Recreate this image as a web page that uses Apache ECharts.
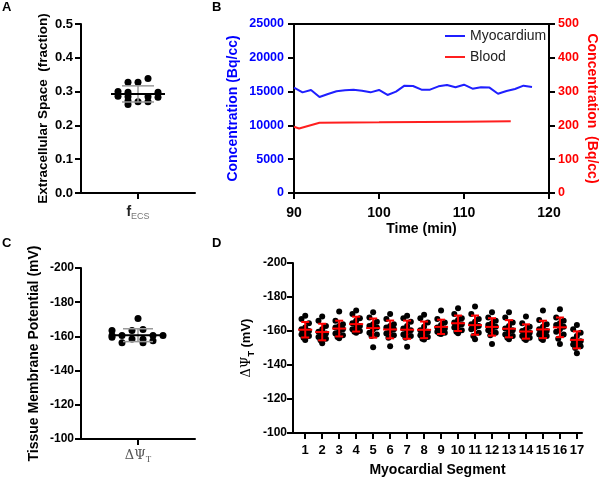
<!DOCTYPE html>
<html><head><meta charset="utf-8">
<script src="https://cdn.jsdelivr.net/npm/echarts@6/dist/echarts.min.js"></script>
<style>html,body{margin:0;padding:0;background:#fff}#c{width:600px;height:478px}</style>
</head><body><div id="c"></div>
<script>
// ---------- Panel A: extracellular space fraction ----------
const ecsValues = [0.328, 0.328, 0.339, 0.300, 0.298, 0.298, 0.286, 0.285, 0.285, 0.283, 0.272, 0.270, 0.270, 0.262];
const ecsJitter = [-10, 0, 10, -20, -10, 20, -20, -10, 10, 20, -10, 0, 10, -10];
const ticksA = [0, 0.1, 0.2, 0.3, 0.4, 0.5];

// ---------- Panel B: time activity curves ----------
const timeMin = [90,91,92,93,94,95,96,97,98,99,100,101,102,103,104,105,106,107,108,109,110,111,112,113,114,115,116,117,118];
const myocardium = [15580,14890,15240,14200,14650,15040,15190,15290,15140,14890,15240,14500,14990,15880,15830,15290,15290,15780,15980,15640,16020,15430,15640,15590,14690,15090,15380,15880,15680];
const bloodTime = [90, 90.6, 93, 100, 105, 110, 115.5];
const blood = [196, 191, 208, 209, 210, 211, 212];
const ticksTime = [90, 100, 110, 120];
const ticksLeftB = [0, 5000, 10000, 15000, 20000, 25000];
const ticksRightB = [0, 100, 200, 300, 400, 500];

// ---------- Panel C: tissue membrane potential ----------
const potentialValues = [-170.5, -163.5, -163.5, -164, -160.5, -160.5, -160.5, -160.5, -159.5, -158.5, -158.3, -156.3, -156.3, -157.5];
const potentialJitter = [0, -26, -6, 5, -26, -16, 15, 25, -26, -6, 5, -16, 5, 15];
const ticksC = [-200, -180, -160, -140, -120, -100];

// ---------- Panel D: per segment ----------
const segments = [1,2,3,4,5,6,7,8,9,10,11,12,13,14,15,16,17];
const segmentValues = [
  [-169, -167, -164.5, -162, -161, -160, -159, -158, -157, -156, -154.7],
  [-168.5, -166, -163, -161, -159.5, -158.5, -157.5, -156.5, -155.5, -154.5, -152.8],
  [-171.5, -166, -164, -163, -162, -161, -160, -158.5, -157.5, -156.5, -155.7],
  [-172, -170, -167.5, -166, -164.5, -163, -162, -161, -160, -159.5, -159],
  [-171, -168, -165.5, -164, -163, -162, -161, -159, -158, -157, -150.4],
  [-170, -167, -164, -163, -162, -161, -160, -158.5, -157.5, -156, -151],
  [-169, -167.5, -165.5, -163, -161.5, -160.5, -159.5, -158, -157, -156, -150.8],
  [-169.5, -167.5, -165, -162.5, -160.5, -159.5, -158.5, -157.5, -156.5, -155.5, -155],
  [-172, -167, -165, -163.5, -162, -161.5, -160.5, -159.5, -159, -158.5, -158.3],
  [-173.4, -170, -167.5, -166.5, -165, -164, -163, -162, -160.5, -159.5, -158.7],
  [-174.4, -170, -167, -165.5, -164, -163, -162, -161, -159, -157, -155.1],
  [-171, -168, -166, -164.5, -163.5, -162.5, -161.5, -160.5, -159, -157.5, -152.4],
  [-171, -168, -165, -163, -161.5, -160.5, -159.5, -158, -157, -156, -155.1],
  [-168.5, -164.5, -162.5, -161, -160, -159, -158, -157, -156, -155.5, -154.7],
  [-172, -166.5, -164, -162.5, -161, -160, -159, -158, -157, -155.5, -154.7],
  [-172.8, -168, -166, -164.5, -163.5, -162.5, -161, -159.5, -158, -155.5, -152.4],
  [-163.6, -161, -159, -157, -155, -154, -153, -152, -151, -150, -146.9]
];
const segmentJitter = [0, -0.22, 0.22, 0, -0.22, 0.22, 0, -0.22, 0.22, -0.1, 0];

// ---------- helpers ----------
const FONT = "'Liberation Sans', Arial, sans-serif";
function stats(a) {
  const m = a.reduce((s, v) => s + v, 0) / a.length;
  const sd = Math.sqrt(a.reduce((s, v) => s + (v - m) * (v - m), 0) / (a.length - 1));
  return [m, sd];
}
function errRender(meanHalfPx, capHalfPx, meanColor, barColor, meanW, barW) {
  return function (params, api) {
    const x = api.value(0), m = api.value(1), sd = api.value(2);
    const c = api.coord([x, m]);
    const a = api.coord([x, m - sd]);
    const b = api.coord([x, m + sd]);
    const bar = { stroke: barColor, lineWidth: barW };
    return {
      type: 'group',
      children: [
        { type: 'line', shape: { x1: a[0], y1: a[1], x2: b[0], y2: b[1] }, style: bar },
        { type: 'line', shape: { x1: a[0] - capHalfPx, y1: a[1], x2: a[0] + capHalfPx, y2: a[1] }, style: bar },
        { type: 'line', shape: { x1: b[0] - capHalfPx, y1: b[1], x2: b[0] + capHalfPx, y2: b[1] }, style: bar },
        { type: 'line', shape: { x1: c[0] - meanHalfPx, y1: c[1], x2: c[0] + meanHalfPx, y2: c[1] }, style: { stroke: meanColor, lineWidth: meanW } }
      ]
    };
  };
}
const axisLineBlack = { show: true, onZero: false, lineStyle: { color: '#000', width: 2 } };
const tickOut = { show: true, inside: false, length: 6, lineStyle: { color: '#000', width: 2 } };
const boldLabel = (size, color) => ({ fontFamily: FONT, fontWeight: 'bold', fontSize: size, color: color || '#000' });

const ecsStats = stats(ecsValues);
const potStats = stats(potentialValues);
const segStats = segmentValues.map(stats);

const scatterA = ecsValues.map((v, i) => [ecsJitter[i], v]);
const scatterC = potentialValues.map((v, i) => [potentialJitter[i], v]);
const scatterD = [];
segmentValues.forEach((arr, si) => arr.forEach((v, i) => scatterD.push([segments[si] + segmentJitter[i], v])));

const dot = { color: '#000', opacity: 1 };

const chart = echarts.init(document.getElementById('c'), null, { renderer: 'canvas' });
chart.setOption({
  animation: false,
  backgroundColor: '#fff',
  textStyle: { fontFamily: FONT },
  graphic: [
    { type: 'text', left: 2, top: 1, style: { text: 'A', font: "bold 13px " + FONT, fill: '#000' } },
    { type: 'text', left: 212, top: 1, style: { text: 'B', font: "bold 13px " + FONT, fill: '#000' } },
    { type: 'text', left: 2, top: 237, style: { text: 'C', font: "bold 13px " + FONT, fill: '#000' } },
    { type: 'text', left: 212, top: 237, style: { text: 'D', font: "bold 13px " + FONT, fill: '#000' } }
  ],
  legend: {
    data: ['Myocardium', 'Blood'],
    orient: 'vertical', left: 440, top: 24, itemGap: 7,
    icon: 'rect', itemWidth: 20, itemHeight: 2,
    textStyle: { fontFamily: FONT, fontSize: 14, color: '#222' }
  },
  grid: [
    { left: 81, top: 24, width: 114, height: 169 },
    { left: 294, top: 24, width: 255, height: 169, show: true, borderColor: '#000', borderWidth: 2, backgroundColor: 'transparent' },
    { left: 81, top: 268, width: 114, height: 171 },
    { left: 293, top: 263, width: 289, height: 170 }
  ],
  xAxis: [
    { gridIndex: 0, type: 'value', min: -57, max: 57,
      axisLine: axisLineBlack, axisTick: Object.assign({ customValues: [0] }, tickOut), splitLine: { show: false },
      axisLabel: { customValues: [0], margin: 8, formatter: () => '{f|f}{s|ECS}',
        rich: { f: { fontFamily: FONT, fontSize: 14, color: '#222', fontWeight: 'bold', lineHeight: 18, verticalAlign: 'bottom' },
                s: { fontFamily: FONT, fontSize: 9, color: '#777', lineHeight: 14, verticalAlign: 'bottom', padding: [0, 0, -2, 0] } } } },
    { gridIndex: 1, type: 'value', min: ticksTime[0], max: ticksTime[ticksTime.length - 1], interval: 10,
      name: 'Time (min)', nameLocation: 'middle', nameGap: 29, nameTextStyle: boldLabel(14),
      axisLine: axisLineBlack, axisTick: tickOut, splitLine: { show: false },
      axisLabel: Object.assign({ margin: 13 }, boldLabel(14)) },
    { gridIndex: 2, type: 'value', min: -57, max: 57,
      axisLine: axisLineBlack, axisTick: Object.assign({ customValues: [0] }, tickOut), splitLine: { show: false },
      axisLabel: { customValues: [0], margin: 5, formatter: () => '{f|ΔΨ}{s|T}',
        rich: { f: { fontFamily: "'DejaVu Serif', 'Liberation Serif', serif", fontSize: 13, color: '#555', lineHeight: 18, verticalAlign: 'bottom' },
                s: { fontFamily: "'Liberation Serif', serif", fontSize: 9, color: '#555', lineHeight: 14, verticalAlign: 'bottom', padding: [0, 0, -2, 0] } } } },
    { gridIndex: 3, type: 'value', min: 0.28, max: 17.3,
      name: 'Myocardial Segment', nameLocation: 'middle', nameGap: 30, nameTextStyle: boldLabel(14),
      axisLine: axisLineBlack, axisTick: Object.assign({ customValues: segments }, tickOut), splitLine: { show: false },
      axisLabel: Object.assign({ customValues: segments, margin: 11 }, boldLabel(13)) }
  ],
  yAxis: [
    { gridIndex: 0, type: 'value', min: ticksA[0], max: ticksA[ticksA.length - 1], interval: 0.1,
      name: 'Extracellular Space  (fraction)', nameLocation: 'middle', nameGap: 31, nameTextStyle: boldLabel(13.5),
      axisLine: axisLineBlack, axisTick: tickOut, splitLine: { show: false },
      axisLabel: Object.assign({ margin: 8, formatter: v => v.toFixed(1) }, boldLabel(13)) },
    { gridIndex: 1, type: 'value', min: ticksLeftB[0], max: ticksLeftB[ticksLeftB.length - 1], interval: 5000,
      name: 'Concentration (Bq/cc)', nameLocation: 'middle', nameGap: 54, nameTextStyle: boldLabel(14, '#0000ff'),
      axisLine: axisLineBlack, axisTick: tickOut, splitLine: { show: false },
      axisLabel: Object.assign({ margin: 10, formatter: v => String(v) }, boldLabel(12.5, '#0000ff')) },
    { gridIndex: 1, type: 'value', position: 'right', min: ticksRightB[0], max: ticksRightB[ticksRightB.length - 1], interval: 100,
      name: 'Concentration  (Bq/cc)', nameLocation: 'middle', nameGap: 36, nameRotate: -90, nameTextStyle: boldLabel(14, '#ff0000'),
      axisLine: axisLineBlack, axisTick: tickOut, splitLine: { show: false },
      axisLabel: Object.assign({ margin: 9, formatter: v => String(v) }, boldLabel(12.5, '#ff0000')) },
    { gridIndex: 2, type: 'value', inverse: true, min: ticksC[0], max: ticksC[ticksC.length - 1], interval: 20,
      name: 'Tissue Membrane Potential (mV)', nameLocation: 'middle', nameGap: 40, nameTextStyle: boldLabel(14),
      axisLine: axisLineBlack, axisTick: tickOut, splitLine: { show: false },
      axisLabel: Object.assign({ margin: 7 }, boldLabel(12)) },
    { gridIndex: 3, type: 'value', inverse: true, min: ticksC[0], max: ticksC[ticksC.length - 1], interval: 20,
      name: '{a|ΔΨ}{b|T}{c| (mV)}', nameLocation: 'middle', nameGap: 40,
      nameTextStyle: { rich: {
        a: { fontFamily: "'DejaVu Serif', serif", fontSize: 13, color: '#000' },
        b: { fontFamily: FONT, fontSize: 9, fontWeight: 'bold', color: '#000', verticalAlign: 'bottom', padding: [0, 0, -3, 0] },
        c: { fontFamily: FONT, fontSize: 13, fontWeight: 'bold', color: '#000' } } },
      axisLine: axisLineBlack, axisTick: tickOut, splitLine: { show: false },
      axisLabel: Object.assign({ margin: 6 }, boldLabel(12)) }
  ],
  series: [
    { type: 'scatter', xAxisIndex: 0, yAxisIndex: 0, data: scatterA, symbolSize: 7, itemStyle: dot, z: 2 },
    { type: 'custom', xAxisIndex: 0, yAxisIndex: 0, data: [[0, ecsStats[0], ecsStats[1]]],
      renderItem: errRender(27, 16, '#000', '#999', 2, 1.5), z: 3 },
    { name: 'Myocardium', type: 'line', xAxisIndex: 1, yAxisIndex: 1, data: timeMin.map((t, i) => [t, myocardium[i]]),
      showSymbol: false, lineStyle: { color: '#1f1fff', width: 2 }, itemStyle: { color: '#1f1fff' } },
    { name: 'Blood', type: 'line', xAxisIndex: 1, yAxisIndex: 2, data: bloodTime.map((t, i) => [t, blood[i]]),
      showSymbol: false, lineStyle: { color: '#ff1f1f', width: 2 }, itemStyle: { color: '#ff1f1f' } },
    { type: 'scatter', xAxisIndex: 2, yAxisIndex: 3, data: scatterC, symbolSize: 7, itemStyle: dot, z: 2 },
    { type: 'custom', xAxisIndex: 2, yAxisIndex: 3, data: [[0, potStats[0], potStats[1]]],
      renderItem: errRender(27, 15, '#000', '#999', 2, 1.5), z: 3 },
    { type: 'scatter', xAxisIndex: 3, yAxisIndex: 4, data: scatterD, symbolSize: 6, itemStyle: dot, z: 2 },
    { type: 'custom', xAxisIndex: 3, yAxisIndex: 4, data: segStats.map((s, i) => [segments[i], s[0], s[1]]),
      renderItem: errRender(7, 4, '#ff0000', '#ff0000', 2, 2), z: 3 }
  ]
});
</script>
</body></html>
